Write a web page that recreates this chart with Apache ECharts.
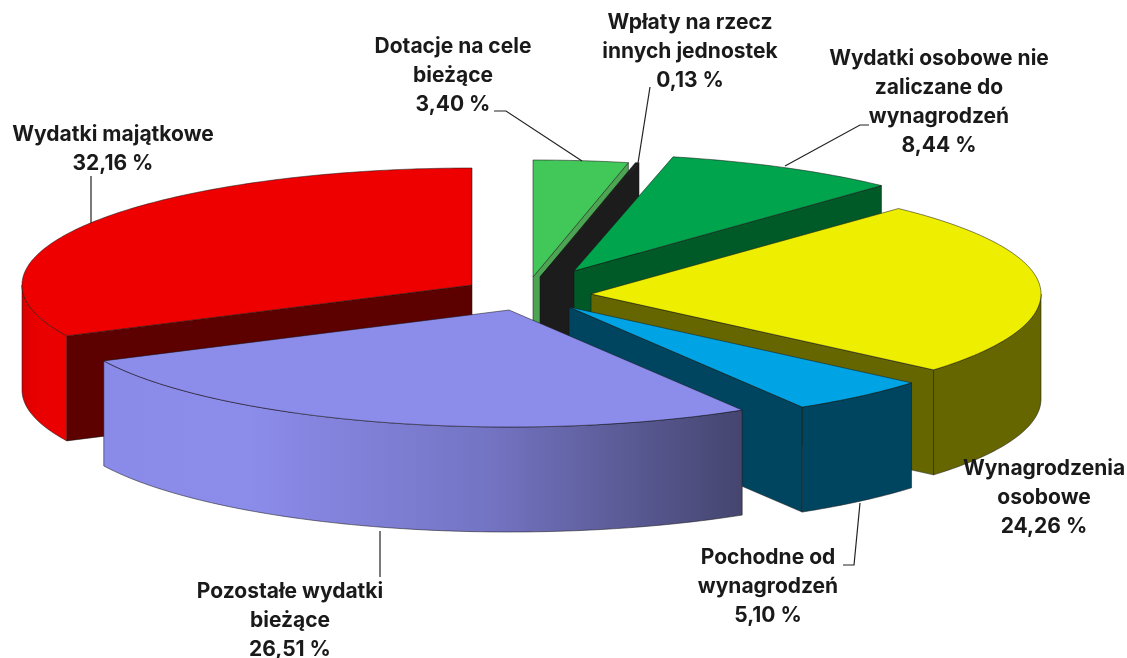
<!DOCTYPE html>
<html>
<head>
<meta charset="utf-8">
<style>
  html, body { margin: 0; padding: 0; background: #fff; }
  #chart { width: 1127px; height: 658px; }
</style>
<script src="https://cdn.jsdelivr.net/npm/echarts@6/dist/echarts.min.js"></script>
</head>
<body>
<div id="chart"></div>
<script>
// dane - kolejnosc zgodnie z ruchem wskazowek, pierwszy wycinek konczy sie na godzinie 12
const categories = [
  'Wydatki majątkowe',
  'Dotacje na cele\nbieżące',
  'Wpłaty na rzecz\ninnych jednostek',
  'Wydatki osobowe nie\nzaliczane do\nwynagrodzeń',
  'Wynagrodzenia\nosobowe',
  'Pochodne od\nwynagrodzeń',
  'Pozostałe wydatki\nbieżące',
]
const values = [32.16, 3.4, 0.13, 8.44, 24.26, 5.1, 26.51]

// wyglad wycinkow
const topColors = ['#ee0000', '#42c858', '#1c1c1c', '#00a44c', '#eeee00', '#00a3e3', '#8c8ceb']
const wallColors = ['#5c0000', '#4ba552', '#1c1c1c', '#005a28', '#666600', '#004560', '#45456f']
const explodeX = [-53, 8, 15, 49, 66, 44, -16]
const explodeY = [-11, -19, -19, -25, -2, 11, 14]

// rzut pseudo 3D
const centerX = 525
const centerY = 296
const radiusX = 450
const radiusY = 117
const depth = 105
const edge = 'rgba(20,20,20,0.7)'

// etykiety (srodek tekstu, gora pierwszej linii) i linie odniesienia
const labelX = [113, 453, 690, 939, 1044, 768, 290]
const labelY = [120, 32, 8, 44, 454, 543, 577]
const leaders = [
  [[91, 223], [91, 176]],
  [[494, 111], [506, 111], [582, 161]],
  [[650, 87], [638, 163]],
  [[785, 166], [860, 125], [869, 125]],
  [[860, 503], [854, 565], [843, 565]],
  [[380, 531], [380, 577]],
]

const total = values.reduce((a, b) => a + b, 0)
const startAngles = []
let acc = 360 - (values[0] / total) * 360
values.forEach((v) => {
  startAngles.push(acc % 360)
  acc += (v / total) * 360
})

function rim(ax, ay, deg, drop) {
  const r = (deg * Math.PI) / 180
  return [ax + radiusX * Math.sin(r), ay - radiusY * Math.cos(r) + drop]
}

function arc(ax, ay, from, to, drop) {
  const pts = []
  const steps = Math.max(2, Math.ceil(to - from))
  for (let i = 0; i <= steps; i++) {
    pts.push(rim(ax, ay, from + ((to - from) * i) / steps, drop))
  }
  return pts
}

function face(points, fill) {
  return {
    type: 'polygon',
    shape: { points: points },
    style: { fill: fill, stroke: edge, lineWidth: 0.75 },
  }
}

function wallFill(i) {
  if (i === 0) {
    return new echarts.graphic.LinearGradient(0, 0, 1, 0, [
      { offset: 0, color: '#d80000' },
      { offset: 0.3, color: '#e80000' },
      { offset: 1, color: '#ec0000' },
    ])
  }
  if (i === 6) {
    return new echarts.graphic.LinearGradient(0, 0, 1, 0, [
      { offset: 0, color: '#8a8ae8' },
      { offset: 0.22, color: '#8c8ceb' },
      { offset: 0.6, color: '#7474c4' },
      { offset: 1, color: '#45456f' },
    ])
  }
  return wallColors[i]
}

function renderSlice(params, api) {
  const i = params.dataIndex
  const sweep = (api.value(0) / total) * 360
  const from = startAngles[i]
  const to = from + sweep
  const ax = centerX + explodeX[i]
  const ay = centerY + explodeY[i]
  const children = []

  // sciany promieniowe - tylko te zwrocone do patrzacego
  ;[from, to].forEach((deg) => {
    if ((deg === from && deg < 180) || (deg === to && deg > 180)) return
    const p = rim(ax, ay, deg, 0)
    children.push(face([[ax, ay], p, [p[0], p[1] + depth], [ax, ay + depth]], wallColors[i]))
  })

  // sciana zewnetrzna
  const a = Math.max(from, 90)
  const b = Math.min(to, 270)
  if (b > a) {
    const lower = arc(ax, ay, a, b, depth).reverse()
    children.push(face(arc(ax, ay, a, b, 0).concat(lower), wallFill(i)))
  }

  // gorna powierzchnia
  children.push(face([[ax, ay]].concat(arc(ax, ay, from, to, 0)), topColors[i]))
  return { type: 'group', children: children }
}

const percentText = (v) => v.toFixed(2).replace('.', ',') + ' %'

const labelElements = categories.map((name, i) => ({
  type: 'text',
  x: labelX[i],
  y: labelY[i],
  z: 10,
  style: {
    text: name + '\n' + percentText(values[i]),
    fill: '#1a1a1a',
    font: '700 21px Inter, "Liberation Sans", sans-serif',
    lineHeight: 29,
    align: 'center',
    verticalAlign: 'top',
  },
}))

const leaderElements = leaders.map((pts) => ({
  type: 'polyline',
  z: 9,
  shape: { points: pts },
  style: { stroke: '#222', lineWidth: 1.2, fill: null },
}))

const chart = echarts.init(document.getElementById('chart'), null, { renderer: 'canvas' })
chart.setOption({
  animation: false,
  backgroundColor: '#fff',
  series: [
    {
      type: 'custom',
      coordinateSystem: 'none',
      silent: true,
      renderItem: renderSlice,
      data: values.map((v, i) => ({ name: categories[i], value: [v] })),
    },
  ],
  graphic: leaderElements.concat(labelElements),
})
</script>
</body>
</html>
